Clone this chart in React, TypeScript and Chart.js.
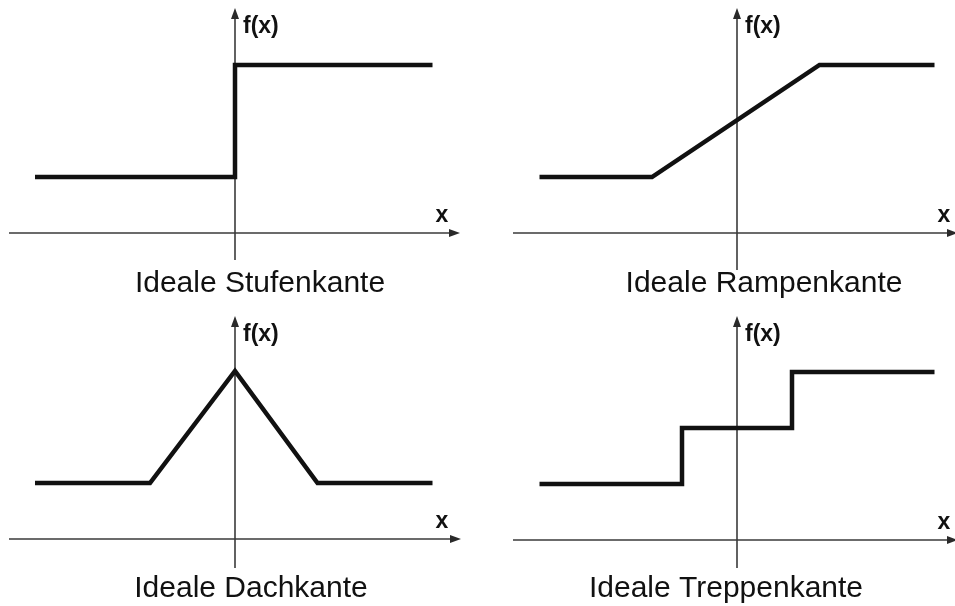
import React, { useEffect, useRef } from "react";
import { Chart, registerables } from "chart.js";

Chart.register(...registerables);

// ---- data (x in abstract units, y = f(x)) ----
const stufeX = [-4, 0, 0, 3.95];
const stufeY = [1, 1, 3, 3];

const rampeX = [-3.95, -1.7, 1.65, 3.95];
const rampeY = [1, 1, 3, 3];

const dachX = [-4, -1.7, 0, 1.65, 3.95];
const dachY = [1, 1, 3, 1, 1];

const treppeX = [-3.95, -1.1, -1.1, 1.1, 1.1, 3.95];
const treppeY = [1, 1, 2, 2, 3, 3];

const titles = [
  "Ideale Stufenkante",
  "Ideale Rampenkante",
  "Ideale Dachkante",
  "Ideale Treppenkante",
];
const yAxisLabel = "f(x)";
const xAxisLabel = "x";

// ---- layout ----
const X_UNIT = 50; // px per x unit
const Y_UNIT = 56; // px per y unit
const FONT = "'Liberation Sans', Arial, Helvetica, sans-serif";

type Panel = {
  title: string;
  xs: number[];
  ys: number[];
  left: number;
  top: number;
  width: number;
  height: number;
  ox: number; // origin px inside canvas
  oy: number;
  axisXFrom: number; // px inside canvas
  axisXTo: number;
  axisYTop: number;
  axisYBottom: number;
  titleCx: number;
  titleBase: number;
};

const panels: Panel[] = [
  {
    title: titles[0], xs: stufeX, ys: stufeY,
    left: 0, top: 0, width: 478, height: 303,
    ox: 235, oy: 233,
    axisXFrom: 9, axisXTo: 460, axisYTop: 8, axisYBottom: 260,
    titleCx: 260, titleBase: 292,
  },
  {
    title: titles[1], xs: rampeX, ys: rampeY,
    left: 478, top: 0, width: 477, height: 303,
    ox: 259, oy: 233,
    axisXFrom: 35, axisXTo: 480, axisYTop: 8, axisYBottom: 270,
    titleCx: 286, titleBase: 292,
  },
  {
    title: titles[2], xs: dachX, ys: dachY,
    left: 0, top: 303, width: 478, height: 303,
    ox: 235, oy: 236,
    axisXFrom: 9, axisXTo: 461, axisYTop: 13, axisYBottom: 265,
    titleCx: 251, titleBase: 294,
  },
  {
    title: titles[3], xs: treppeX, ys: treppeY,
    left: 478, top: 303, width: 477, height: 303,
    ox: 259, oy: 237,
    axisXFrom: 35, axisXTo: 480, axisYTop: 13, axisYBottom: 265,
    titleCx: 248, titleBase: 294,
  },
];

function arrow(ctx: CanvasRenderingContext2D, x: number, y: number, dir: "up" | "right") {
  ctx.beginPath();
  if (dir === "up") {
    ctx.moveTo(x, y);
    ctx.lineTo(x - 4, y + 11);
    ctx.lineTo(x + 4, y + 11);
  } else {
    ctx.moveTo(x, y);
    ctx.lineTo(x - 11, y - 4);
    ctx.lineTo(x - 11, y + 4);
  }
  ctx.closePath();
  ctx.fill();
}

function PanelChart({ p }: { p: Panel }) {
  const ref = useRef<HTMLCanvasElement | null>(null);
  useEffect(() => {
    const canvas = ref.current;
    if (!canvas) return;
    const xmin = -p.ox / X_UNIT;
    const xmax = (p.width - p.ox) / X_UNIT;
    const ymax = p.oy / Y_UNIT;
    const ymin = -(p.height - p.oy) / Y_UNIT;

    const axesPlugin = {
      id: "axesPlugin",
      beforeDatasetsDraw(chart: any) {
        const ctx = chart.ctx as CanvasRenderingContext2D;
        const xs = chart.scales.x;
        const ys = chart.scales.y;
        const x0 = xs.getPixelForValue(0);
        const y0 = ys.getPixelForValue(0);
        ctx.save();
        ctx.strokeStyle = "#3a3a3a";
        ctx.fillStyle = "#2a2a2a";
        ctx.lineWidth = 1.6;
        // x axis
        ctx.beginPath();
        ctx.moveTo(p.axisXFrom, y0);
        ctx.lineTo(p.axisXTo - 8, y0);
        ctx.stroke();
        arrow(ctx, p.axisXTo, y0, "right");
        // y axis
        ctx.beginPath();
        ctx.moveTo(x0, p.axisYBottom);
        ctx.lineTo(x0, p.axisYTop + 8);
        ctx.stroke();
        arrow(ctx, x0, p.axisYTop, "up");
        // labels
        ctx.fillStyle = "#111";
        ctx.textBaseline = "alphabetic";
        ctx.textAlign = "left";
        ctx.font = `bold 23px ${FONT}`;
        ctx.fillText(yAxisLabel, x0 + 8, p.axisYTop + 25);
        ctx.textAlign = "center";
        ctx.fillText(xAxisLabel, x0 + 207, y0 - 11);
        // title
        ctx.font = `30px ${FONT}`;
        ctx.textAlign = "center";
        ctx.fillText(p.title, p.titleCx, p.titleBase);
        ctx.restore();
      },
    };

    const chart = new Chart(canvas, {
      type: "scatter",
      data: {
        datasets: [
          {
            data: p.xs.map((x, i) => ({ x, y: p.ys[i] })),
            showLine: true,
            borderColor: "#111111",
            backgroundColor: "#111111",
            borderWidth: 4.5,
            pointRadius: 0,
            pointHoverRadius: 0,
            fill: false,
            tension: 0,
            borderJoinStyle: "miter",
            borderCapStyle: "butt",
          } as any,
        ],
      },
      options: {
        responsive: false,
        maintainAspectRatio: false,
        animation: false,
        devicePixelRatio: 1,
        layout: { padding: 0 },
        plugins: {
          legend: { display: false },
          tooltip: { enabled: false },
          title: { display: false },
        },
        events: [],
        scales: {
          x: { type: "linear", display: false, min: xmin, max: xmax },
          y: { type: "linear", display: false, min: ymin, max: ymax },
        },
      },
      plugins: [axesPlugin],
    });
    return () => chart.destroy();
  }, [p]);

  return (
    <canvas
      ref={ref}
      width={p.width}
      height={p.height}
      style={{
        position: "absolute",
        left: p.left,
        top: p.top,
        width: p.width,
        height: p.height,
        display: "block",
      }}
    />
  );
}

export default function App() {
  useEffect(() => {
    document.body.style.margin = "0";
    document.body.style.background = "#ffffff";
  }, []);
  return (
    <div
      style={{
        position: "fixed",
        left: 0,
        top: 0,
        width: 955,
        height: 606,
        background: "#ffffff",
        overflow: "hidden",
      }}
    >
      {panels.map((p, i) => (
        <PanelChart key={i} p={p} />
      ))}
    </div>
  );
}
